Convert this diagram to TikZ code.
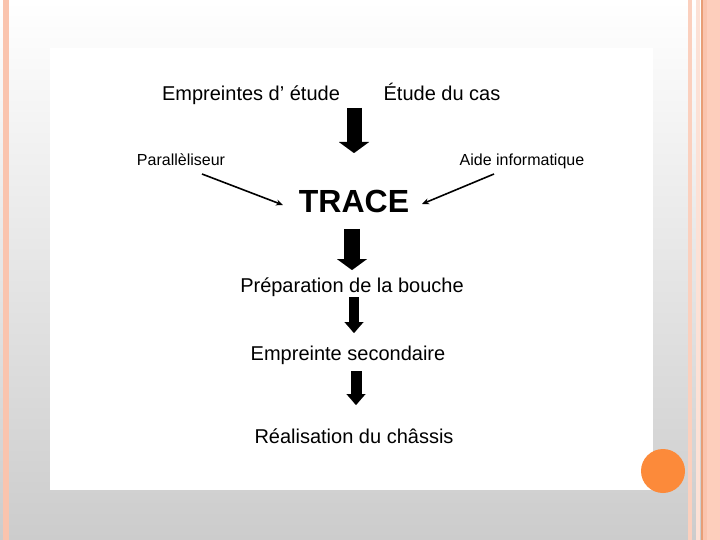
\documentclass[tikz,border=0pt]{standalone}
\usepackage{fontspec}
\setmainfont{Liberation Sans}
\usetikzlibrary{arrows.meta}

\tikzset{
  label/.style={inner sep=0pt, anchor=base, font=\fontsize{20}{24}\selectfont},
  small/.style={inner sep=0pt, anchor=base, font=\fontsize{16}{19}\selectfont},
  fat/.style={line width=#1, -{Triangle[width=30pt,length=11pt,line width=0.01pt]}},
  slim/.style={line width=#1, -{Triangle[width=19pt,length=11pt,line width=0.01pt]}},
  thin/.style={line width=1.6pt, -{Stealth[length=7pt,width=6pt]}}
}
\definecolor{salmon}{RGB}{250,196,174}
\definecolor{salmonlight}{RGB}{253,206,188}
\definecolor{rim}{RGB}{232,158,118}
\definecolor{dot}{RGB}{252,138,58}

\begin{document}
\begin{tikzpicture}[x=1pt,y=-1pt]
        \useasboundingbox (0,0) rectangle (720,540);
        % slide background
        \shade[top color=white, bottom color={rgb,255:red,204;green,204;blue,204}] (0,0) rectangle (720,540);
        \fill[salmon] (3,0) rectangle (9,540);
        \fill[salmon!80] (688,0) rectangle (692,540);
        \fill[salmon!50] (696,0) rectangle (700,540);
        \fill[rim] (701,0) rectangle (703,540);
        \fill[salmon] (703,0) rectangle (707,540);
        \fill[salmonlight] (707,0) rectangle (720,540);
        \fill[white] (50,48) rectangle (653,490);
        \fill[dot] (663,471) circle (22);
        % texts
        \node[label] (empreintes) at (251,101) {Empreintes d' étude};
        \node[label] (cas) at (442,101) {Étude du cas};
        \node[small] (par) at (181,166) {Parallèliseur};
        \node[small] (aide) at (522,166) {Aide informatique};
        \node[inner sep=0pt, anchor=base, font=\fontsize{32}{38}\selectfont\bfseries] (trace) at (354,213) {TRACE};
        \node[label] (prep) at (352,292) {Préparation de la bouche};
        \node[label] (sec) at (348,360) {Empreinte secondaire};
        \node[label] (chassis) at (354,443) {Réalisation du châssis};
        % arrow ends
        \coordinate (a1) at (354,108);
        \coordinate (b1) at (354,153);
        \coordinate (a2) at (352,229);
        \coordinate (b2) at (352,270);
        \coordinate (a3) at (354,297);
        \coordinate (b3) at (354,333);
        \coordinate (a4) at (356,371);
        \coordinate (b4) at (356,405);
        \coordinate (p1) at (202,174);
        \coordinate (p2) at (283,205);
        \coordinate (q1) at (494,174);
        \coordinate (q2) at (422,204);
        % arrows
        \draw[fat=15pt] (a1) -- (b1);
        \draw[fat=16pt] (a2) -- (b2);
        \draw[slim=10pt] (a3) -- (b3);
        \draw[slim=11pt] (a4) -- (b4);
        \draw[thin] (p1) -- (p2);
        \draw[thin] (q1) -- (q2);
    \end{tikzpicture}
\end{document}
